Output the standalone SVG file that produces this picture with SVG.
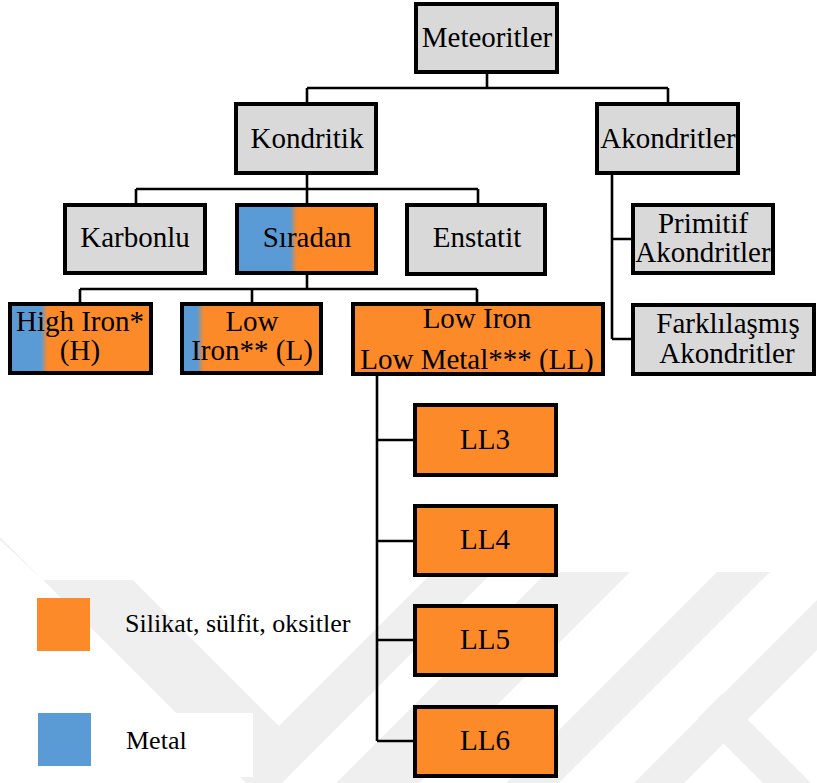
<svg xmlns="http://www.w3.org/2000/svg" width="817" height="783" viewBox="0 0 817 783">
<style>
.box{stroke:#000;stroke-width:4}
.g{fill:#d9d9d9}
.o{fill:#fd8a28}
.t{font-size:29px;fill:#000;text-anchor:middle}
.lg{font-size:26px;fill:#000}
.c{stroke:#000;stroke-width:2.6;fill:none}
.wm{fill:#efefef}
</style>
<defs>
<linearGradient id="gS" gradientUnits="userSpaceOnUse" x1="235" y1="0" x2="378" y2="0">
<stop offset="0.385" stop-color="#5b9bd5"/><stop offset="0.434" stop-color="#fd8a28"/>
</linearGradient>
<linearGradient id="gH" gradientUnits="userSpaceOnUse" x1="8" y1="0" x2="153" y2="0">
<stop offset="0.228" stop-color="#5b9bd5"/><stop offset="0.272" stop-color="#fd8a28"/>
</linearGradient>
<linearGradient id="gL" gradientUnits="userSpaceOnUse" x1="180" y1="0" x2="323" y2="0">
<stop offset="0.119" stop-color="#5b9bd5"/><stop offset="0.168" stop-color="#fd8a28"/>
</linearGradient>
</defs>
<rect width="817" height="783" fill="#fff"/>
<g id="watermark">
<polygon class="wm" points="0,500 0,540 43,580 133,580 279,726 433,572 493,572 264,801 0,537"/>
<polygon class="wm" points="547,572 630,572 419,783 336,783"/>
<polygon class="wm" points="717,572 770,572 559,783 506,783"/>
<polygon class="wm" points="817,600 817,650 684,783 634,783"/>
<polygon class="wm" points="698,718 722,694 811,783 763,783"/>
<rect x="123" y="713" width="130" height="64" fill="#fff"/>
</g>
<g id="connectors">
<path class="c" d="M487,74V88M307,88H668M307,88V102M668,88V102"/>
<path class="c" d="M307,175V203M136,189H478M136,189V203M478,189V203"/>
<path class="c" d="M612,175V339M612,239H631M612,339H631"/>
<path class="c" d="M307,275V289M80,289H477M80,289V302M252,289V302M477,289V302"/>
<path class="c" d="M377,376V741M377,440H413M377,541H413M377,640H413M377,741H413"/>
</g>
<g font-family="'Liberation Serif', 'Times New Roman', serif">
<g id="meteoritler"><rect class="box g" x="416" y="4" width="141" height="68"/><text class="t" x="487" y="47">Meteoritler</text></g>
<g id="kondritik"><rect class="box g" x="236" y="104" width="140" height="69"/><text class="t" x="307" y="148">Kondritik</text></g>
<g id="akondritler"><rect class="box g" x="597" y="104" width="141" height="69"/><text class="t" x="668" y="148">Akondritler</text></g>
<g id="karbonlu"><rect class="box g" x="65" y="205" width="140" height="68"/><text class="t" x="135" y="247">Karbonlu</text></g>
<g id="siradan"><rect class="box" fill="url(#gS)" x="237" y="205" width="139" height="68"/><text class="t" x="307" y="247">Sıradan</text></g>
<g id="enstatit"><rect class="box g" x="407" y="205" width="138" height="69"/><text class="t" x="477" y="247">Enstatit</text></g>
<g id="primitif"><rect class="box g" x="633" y="205" width="140" height="68"/><text class="t" x="703" y="233">Primitif</text><text class="t" x="703" y="262">Akondritler</text></g>
<g id="farklilasmis"><rect class="box g" x="633" y="305" width="181" height="69"/><text class="t" x="728" y="333">Farklılaşmış</text><text class="t" x="727" y="363">Akondritler</text></g>
<g id="high-iron"><rect class="box" fill="url(#gH)" x="10" y="304" width="141" height="69"/><text class="t" x="80" y="331">High Iron*</text><text class="t" x="80" y="360">(H)</text></g>
<g id="low-iron"><rect class="box" fill="url(#gL)" x="182" y="304" width="139" height="69"/><text class="t" x="252" y="331">Low</text><text class="t" x="252" y="360">Iron** (L)</text></g>
<g id="ll"><rect class="box o" x="353" y="304" width="250" height="70"/><text class="t" x="477" y="328">Low Iron</text><text class="t" x="477" y="369">Low Metal*** (LL)</text></g>
<g id="ll3"><rect class="box o" x="415" y="405" width="141" height="70"/><text class="t" x="485" y="449">LL3</text></g>
<g id="ll4"><rect class="box o" x="415" y="506" width="141" height="69"/><text class="t" x="485" y="549">LL4</text></g>
<g id="ll5"><rect class="box o" x="415" y="606" width="141" height="69"/><text class="t" x="485" y="649">LL5</text></g>
<g id="ll6"><rect class="box o" x="415" y="707" width="141" height="69"/><text class="t" x="485" y="750">LL6</text></g>
<g id="legend">
<rect x="37" y="598" width="53" height="53" fill="#fd8a28"/>
<text class="lg" x="125" y="632">Silikat, sülfit, oksitler</text>
<rect x="38" y="713" width="53" height="53" fill="#5b9bd5"/>
<text class="lg" x="126" y="749">Metal</text>
</g>
</g>
</svg>
